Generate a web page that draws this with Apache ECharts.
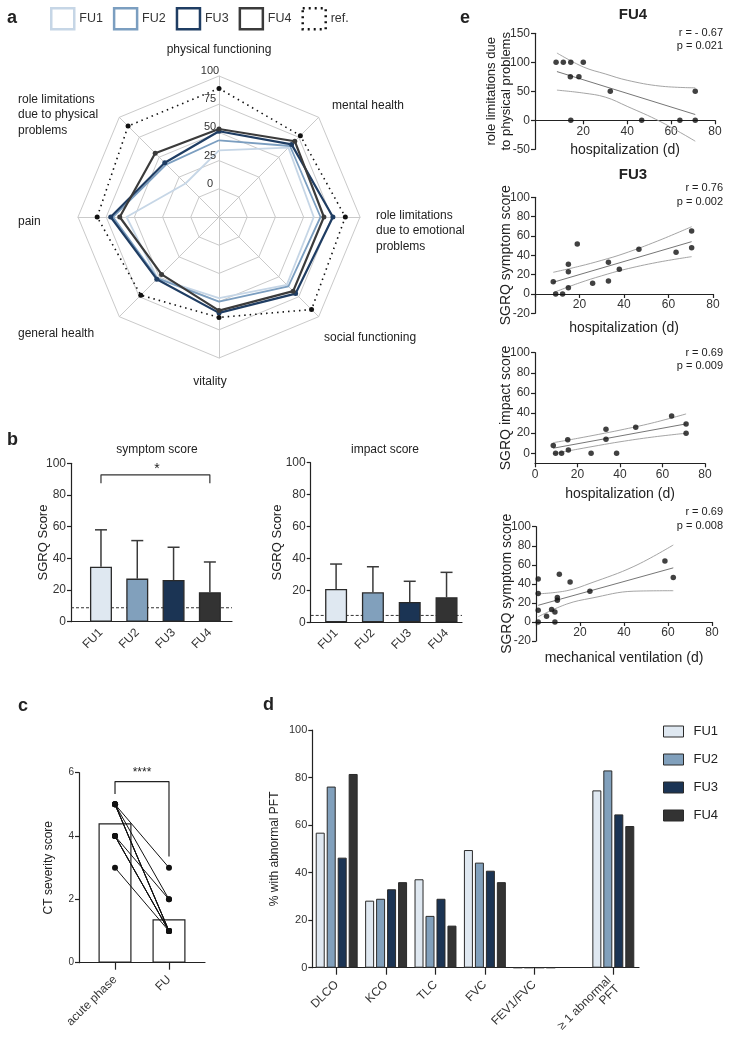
<!DOCTYPE html>
<html><head><meta charset="utf-8">
<script src="https://cdn.jsdelivr.net/npm/echarts@6/dist/echarts.min.js"></script>
<style>html,body{margin:0;padding:0;background:#fff}#c{width:731px;height:1046px}</style>
</head><body><div id="c"></div>
<script>
// ================= DATA =================
const fuLabels = ['FU1', 'FU2', 'FU3', 'FU4'];
// a) SF-36 radar
const radarAxes = ['physical functioning', 'role limitations due to physical problems', 'pain', 'general health',
  'vitality', 'social functioning', 'role limitations due to emotional problems', 'mental health'];
const radarAxisText = ['physical functioning', 'role limitations\ndue to physical\nproblems', 'pain', 'general health',
  'vitality', 'social functioning', 'role limitations\ndue to emotional\nproblems', 'mental health'];
const radarFU1 = [34, 17, 57, 52, 47, 60, 59, 62];
const radarFU2 = [43, 41, 69, 52, 50, 62, 65, 64];
const radarFU3 = [51, 43, 71, 53, 60, 71, 76, 66];
const radarFU4 = [53, 55, 63, 47, 58, 68, 68, 70];
const radarRef = [89, 89, 83, 73, 64, 91, 87, 77];
const radarTicks = [0, 25, 50, 75, 100];
// b) SGRQ
const symptomMean = [34.7, 27.2, 26.3, 18.6];
const symptomUpper = [58.0, 51.2, 47.0, 37.7];
const symptomRef = 8.8;
const impactMean = [20.9, 18.8, 12.7, 15.7];
const impactUpper = [36.5, 34.8, 25.7, 31.3];
const impactRef = 4.3;
// c) CT severity
const ctCats = ['acute phase', 'FU'];
const ctMeans = [4.4, 1.37];
const ctPairs = [[5, 3], [5, 2], [5, 1], [5, 1], [5, 1], [4, 2], [4, 1], [4, 1], [4, 1], [3, 1]];
// d) PFT
const pftCats = ['DLCO', 'KCO', 'TLC', 'FVC', 'FEV1/FVC', '≥ 1 abnormal\nPFT'];
const pftFU1 = [56.8, 28.2, 37.2, 49.5, 0, 74.6];
const pftFU2 = [76.2, 29.0, 21.8, 44.2, 0, 83.0];
const pftFU3 = [46.3, 33.0, 29.0, 40.8, 0, 64.5];
const pftFU4 = [81.5, 36.0, 17.7, 36.0, 0, 59.6];
// e) correlations
const e1Pts = [[7.6, 100], [10.9, 100], [14.3, 100], [20, 100], [14.1, 75], [18, 75], [32.3, 50], [71, 50], [14.3, 0], [46.6, 0], [64, 0], [71, 0]];
const e1Fit = [[8, 84], [71, 10]];
const e1Up = [[8, 116], [20, 92], [30, 80], [40, 69], [55, 59], [71, 56]];
const e1Lo = [[8, 52], [20, 47], [30, 40], [40, 24], [55, -2], [71, -36]];
const e2Pts = [[8.2, 12.7], [9.3, 0], [12.4, 0], [15, 30.7], [15, 23.1], [15, 6.5], [19, 51.7], [25.9, 11], [33, 32.8], [33, 13.4], [37.9, 25.5], [46.7, 46.2], [63.4, 43.1], [70.4, 65.2], [70.4, 47.9]];
const e2Fit = [[8.2, 12.1], [70.4, 54.1]];
const e2Up = [[8.2, 22.4], [20, 28.7], [30, 34.8], [40, 41.8], [55, 54.7], [70.4, 69.6]];
const e2Lo = [[8.2, 1.4], [20, 11.5], [30, 18.8], [40, 25.2], [55, 32.7], [70.4, 38.6]];
const e3Pts = [[8.6, 7.6], [9.7, 0], [12.5, 0], [15.4, 13.3], [15.7, 3.3], [26.4, 0], [33.4, 23.9], [33.4, 13.9], [38.4, 0], [47.4, 25.9], [64.3, 37.1], [71.1, 29.2], [71.1, 19.9]];
const e3Fit = [[8.6, 5], [71.1, 29.2]];
const e3Up = [[8.6, 10.5], [20, 14.8], [30, 18.8], [40, 23], [55, 30], [71.1, 39.1]];
const e3Lo = [[8.6, -0.5], [20, 4], [30, 7.8], [40, 11.4], [55, 16], [71.1, 19.9]];
const e4Pts = [[1, 45], [1, 29.8], [1, 12.3], [1, 0], [4.8, 6], [7.1, 13], [8.6, 10.5], [8.6, 0], [9.7, 25.6], [9.7, 22.8], [10.6, 50.2], [15.5, 42], [24.5, 32.3], [58.6, 63.9], [62.4, 46.7]];
const e4Fit = [[1, 17.5], [62.4, 56.8]];
const e4Up = [[1, 29.5], [14, 32.8], [25, 40.9], [44.5, 58.3], [62.4, 80.8]];
const e4Lo = [[1, 5.5], [14, 18.8], [25, 24.9], [44.5, 32.3], [62.4, 32.8]];
const eStats = [['r = - 0.67', 'p = 0.021'], ['r = 0.76', 'p = 0.002'], ['r = 0.69', 'p = 0.009'], ['r = 0.69', 'p = 0.008']];

// ================= LAYOUT / STYLE =================
const FF = '"Liberation Sans", Arial, Helvetica, sans-serif';
const INK = '#222';
const lineCols = ['#c6d6e6', '#7b9ec0', '#1f3d63', '#3b3b3b'];
const fillCols = ['#dfe8f1', '#81a0bc', '#1b3454', '#333333'];
const pftPos = [0, 1, 2, 3, 4, 5.6];
const RC = [219, 217], RR = 141;

function axis(o) {
  const a = {
    type: 'value', gridIndex: o.g, min: o.min, max: o.max,
    axisLine: { show: true, onZero: false, lineStyle: { color: INK, width: 1.2 } },
    axisTick: { show: o.tick !== false, length: o.tl || 4, lineStyle: { color: INK, width: 1.2 } },
    axisLabel: { show: true, color: '#333', fontSize: o.fs || 12, fontFamily: FF, margin: o.margin || 5 },
    splitLine: { show: false }, nameMoveOverlap: false
  };
  if (o.offset) a.offset = o.offset;
  if (o.interval != null) a.interval = o.interval;
  if (o.custom) { a.axisTick.customValues = o.custom; a.axisLabel.customValues = o.custom; }
  if (o.fmt) a.axisLabel.formatter = o.fmt;
  if (o.rotate) a.axisLabel.rotate = o.rotate;
  if (o.name) {
    a.name = o.name; a.nameLocation = 'middle'; a.nameGap = o.nameGap;
    a.nameTextStyle = { fontSize: o.nfs || 13, fontFamily: FF, color: '#222', lineHeight: o.nlh || 16 };
  }
  return a;
}
function grid(l, t, w, h) { return { left: l, top: t, width: w, height: h, outerBoundsMode: 'none', containLabel: false }; }
function txt(text, x, y, o) {
  o = o || {};
  return { type: 'text', silent: true, z: 50, style: {
    text: text, x: x, y: y, fill: o.fill || '#222', font: (o.bold ? 'bold ' : '') + (o.fs || 12) + 'px ' + FF,
    align: o.align || 'left', verticalAlign: o.va || 'middle', lineHeight: o.lh || 15 } };
}

const grids = [
  grid(71, 463.3, 161, 158.4),     // b symptom
  grid(310.7, 462.7, 151.3, 159.6), // b impact
  grid(79, 772.7, 126, 190),        // c
  grid(312.3, 730, 326.7, 237.7),   // d
  grid(535, 33.3, 180, 116),        // e1
  grid(535, 197.3, 178, 116),       // e2
  grid(535, 352.7, 170, 110.6),     // e3
  grid(536, 526.7, 176, 114.3)      // e4
];
// x axis of e1, e2, e4 crosses the y axis at 0: shift it up from the grid bottom
const zeroShift = (gr, min, max) => -gr.height * (0 - min) / (max - min);
const fuFmt = v => fuLabels[Math.round(v)];
const hide0 = v => (v === 0 ? '' : String(v));
const xAxes = [
  axis({ g: 0, min: -0.826, max: 3.61, custom: [0, 1, 2, 3], fmt: fuFmt, rotate: 45, tick: false, fs: 12, margin: 9 }),
  axis({ g: 1, min: -0.69, max: 3.42, custom: [0, 1, 2, 3], fmt: fuFmt, rotate: 45, tick: false, fs: 12, margin: 9 }),
  axis({ g: 2, min: -0.667, max: 1.667, custom: [0, 1], fmt: v => ctCats[Math.round(v)], rotate: 45, fs: 12, tl: 7, margin: 15 }),
  axis({ g: 3, min: -0.494, max: 6.12, custom: pftPos, fmt: v => pftCats[pftPos.indexOf(v)], rotate: 45, fs: 12, tl: 7, margin: 15 }),
  axis({ g: 4, min: -2, max: 80, custom: [20, 40, 60, 80], offset: zeroShift(grids[4], -50, 150), name: 'hospitalization (d)', nameGap: 22, nfs: 14 }),
  axis({ g: 5, min: 0, max: 80, interval: 20, fmt: hide0, offset: zeroShift(grids[5], -20, 100), name: 'hospitalization (d)', nameGap: 26, nfs: 14 }),
  axis({ g: 6, min: 0, max: 80, interval: 20, name: 'hospitalization (d)', nameGap: 23, nfs: 14 }),
  axis({ g: 7, min: 0, max: 80, interval: 20, fmt: hide0, offset: zeroShift(grids[7], -20, 100), name: 'mechanical ventilation (d)', nameGap: 28, nfs: 14 })
];
const yAxes = [
  axis({ g: 0, min: 0, max: 100, interval: 20, name: 'SGRQ Score', nameGap: 20, nfs: 13 }),
  axis({ g: 1, min: 0, max: 100, interval: 20, name: 'SGRQ Score', nameGap: 25, nfs: 13 }),
  axis({ g: 2, min: 0, max: 6, interval: 2, fs: 10, name: 'CT severity score', nameGap: 22, nfs: 12 }),
  axis({ g: 3, min: 0, max: 100, interval: 20, fs: 11, name: '% with abnormal PFT', nameGap: 30, nfs: 12 }),
  axis({ g: 4, min: -50, max: 150, interval: 50, name: 'role limitations due\nto physical problems', nameGap: 21, nfs: 13, nlh: 15 }),
  axis({ g: 5, min: -20, max: 100, interval: 20, name: 'SGRQ symptom score', nameGap: 21, nfs: 14 }),
  axis({ g: 6, min: -10, max: 100, custom: [0, 20, 40, 60, 80, 100], name: 'SGRQ impact score', nameGap: 21, nfs: 14 }),
  axis({ g: 7, min: -20, max: 100, interval: 20, name: 'SGRQ symptom score', nameGap: 21, nfs: 14 })
];

// ================= SERIES =================
const series = [];
// radar
const radarSets = [radarFU1, radarFU2, radarFU3, radarFU4];
series.push({
  type: 'radar', radarIndex: 0, silent: true, z: 3,
  data: radarSets.map((v, i) => ({
    name: fuLabels[i], value: v,
    symbol: i >= 2 ? 'circle' : 'none', symbolSize: 5,
    lineStyle: { color: lineCols[i], width: i >= 2 ? 2.2 : 1.8 },
    itemStyle: { color: lineCols[i] }
  })).concat([{
    name: 'ref.', value: radarRef, symbol: 'circle', symbolSize: 5,
    lineStyle: { color: '#111', width: 1.6, type: [1.5, 4] }, itemStyle: { color: '#111' }
  }])
});

function barSet(gi, means, uppers, ref, xmin, xmax) {
  series.push({ type: 'line', xAxisIndex: gi, yAxisIndex: gi, z: 1, silent: true, symbol: 'none',
    data: [[xmin, ref], [xmax, ref]], lineStyle: { color: '#333', width: 1, type: [3, 2] } });
  series.push({ type: 'bar', xAxisIndex: gi, yAxisIndex: gi, z: 3, silent: true, barWidth: 22,
    itemStyle: { borderColor: '#2a2a2a', borderWidth: 1.3 },
    data: means.map((v, i) => ({ value: [i, v], itemStyle: { color: fillCols[i] } })) });
  series.push({ type: 'custom', xAxisIndex: gi, yAxisIndex: gi, z: 2, silent: true,
    data: means.map((m, i) => [i, m, uppers[i]]), encode: { x: 0, y: [1, 2] },
    renderItem: function (params, api) {
      const x = api.value(0);
      const p1 = api.coord([x, api.value(1)]), p2 = api.coord([x, api.value(2)]);
      const st = { stroke: '#3a3a3a', lineWidth: 1.5 };
      return { type: 'group', children: [
        { type: 'line', shape: { x1: p1[0], y1: p1[1], x2: p2[0], y2: p2[1] }, style: st },
        { type: 'line', shape: { x1: p2[0] - 6, y1: p2[1], x2: p2[0] + 6, y2: p2[1] }, style: st }] };
    } });
}
barSet(0, symptomMean, symptomUpper, symptomRef, -0.826, 3.61);
barSet(1, impactMean, impactUpper, impactRef, -0.69, 3.42);
// significance bracket b
series.push({ type: 'line', xAxisIndex: 0, yAxisIndex: 0, silent: true, symbol: 'none', z: 4,
  data: [[0, 87.4], [0, 92.7], [3, 92.7], [3, 87.4]], lineStyle: { color: '#333', width: 1.2 } });

// c
series.push({ type: 'bar', xAxisIndex: 2, yAxisIndex: 2, barWidth: 33, silent: true, z: 2,
  itemStyle: { color: '#fff', borderColor: '#222', borderWidth: 1.2 },
  data: ctMeans.map((v, i) => [i, v]) });
ctPairs.forEach(p => series.push({ type: 'line', xAxisIndex: 2, yAxisIndex: 2, silent: true, z: 4,
  data: [[0, p[0]], [1, p[1]]], symbol: 'circle', symbolSize: 6,
  lineStyle: { color: '#111', width: 1 }, itemStyle: { color: '#111' } }));
series.push({ type: 'line', xAxisIndex: 2, yAxisIndex: 2, silent: true, symbol: 'none', z: 4,
  data: [[0, 5.33], [0, 5.72], [1, 5.72], [1, 3.35]], lineStyle: { color: '#222', width: 1.2 } });

// d
[pftFU1, pftFU2, pftFU3, pftFU4].forEach((arr, k) => series.push({
  type: 'bar', name: fuLabels[k], xAxisIndex: 3, yAxisIndex: 3, silent: true, barWidth: 9, barGap: '22%',
  itemStyle: { color: fillCols[k], borderColor: '#2a2a2a', borderWidth: 1 },
  data: arr.map((v, i) => [pftPos[i], v]) }));

// e
function eSet(gi, pts, fit, up, lo) {
  const ls = (c) => ({ color: c, width: 0.9 });
  series.push({ type: 'line', xAxisIndex: gi, yAxisIndex: gi, silent: true, symbol: 'none', smooth: 0.4, data: up, lineStyle: ls('#9a9a9a') });
  series.push({ type: 'line', xAxisIndex: gi, yAxisIndex: gi, silent: true, symbol: 'none', data: fit, lineStyle: ls('#666') });
  series.push({ type: 'line', xAxisIndex: gi, yAxisIndex: gi, silent: true, symbol: 'none', smooth: 0.4, data: lo, lineStyle: ls('#9a9a9a') });
  series.push({ type: 'scatter', xAxisIndex: gi, yAxisIndex: gi, silent: true, symbolSize: 5.5, z: 5,
    itemStyle: { color: '#111' }, data: pts });
}
eSet(4, e1Pts, e1Fit, e1Up, e1Lo);
eSet(5, e2Pts, e2Fit, e2Up, e2Lo);
eSet(6, e3Pts, e3Fit, e3Up, e3Lo);
eSet(7, e4Pts, e4Fit, e4Up, e4Lo);

// ================= TEXT =================
const g = [];
g.push(txt('a', 7, 18, { bold: true, fs: 18 }));
g.push(txt('b', 7, 440, { bold: true, fs: 18 }));
g.push(txt('c', 18, 706, { bold: true, fs: 18 }));
g.push(txt('d', 263, 705, { bold: true, fs: 18 }));
g.push(txt('e', 460, 18, { bold: true, fs: 18 }));
// radar names
const radarNamePos = [[219, 50, 'center'], [18, 115, 'left'], [18, 222, 'left'], [18, 334, 'left'],
  [210, 382, 'center'], [324, 338, 'left'], [376, 231, 'left'], [332, 106, 'left']];
radarAxisText.forEach((t, i) => g.push(txt(t, radarNamePos[i][0], radarNamePos[i][1], { align: radarNamePos[i][2], fs: 12, lh: 15.5 })));
radarTicks.forEach(v => g.push(txt(String(v), 210, RC[1] - RR * (v + 25) / 125 - 5, { align: 'center', fs: 11, fill: '#333' })));
// b
g.push(txt('symptom score', 157, 450, { align: 'center', fs: 12 }));
g.push(txt('impact score', 385, 450, { align: 'center', fs: 12 }));
g.push(txt('*', 157, 469, { align: 'center', fs: 14 }));
// c
g.push(txt('****', 142, 773, { align: 'center', fs: 12 }));
// e
g.push(txt('FU4', 633, 15, { align: 'center', fs: 15, bold: true }));
g.push(txt('FU3', 633, 175, { align: 'center', fs: 15, bold: true }));
const statY = [[33, 46], [188, 202], [353, 366], [512, 526]];
eStats.forEach((s, i) => { g.push(txt(s[0], 723, statY[i][0], { align: 'right', fs: 11 })); g.push(txt(s[1], 723, statY[i][1], { align: 'right', fs: 11 })); });

// ================= OPTION =================
const chart = echarts.init(document.getElementById('c'), null, { renderer: 'canvas' });
chart.setOption({
  animation: false,
  backgroundColor: '#fff',
  textStyle: { fontFamily: FF },
  legend: [
    { left: 50, top: 7, padding: 0, itemWidth: 23, itemHeight: 21, itemGap: 10, icon: 'rect', selectedMode: false,
      textStyle: { fontSize: 12.5, color: '#333', fontFamily: FF },
      data: fuLabels.map((n, i) => ({ name: n, itemStyle: { color: '#fff', borderColor: lineCols[i], borderWidth: 2.5 } }))
        .concat([{ name: 'ref.', itemStyle: { color: '#fff', borderColor: '#111', borderWidth: 2.5, borderType: [2, 4] } }]) },
    { left: 663, top: 725, padding: 0, orient: 'vertical', itemWidth: 20, itemHeight: 11, itemGap: 15, icon: 'rect', selectedMode: false,
      textStyle: { fontSize: 13, color: '#222', fontFamily: FF, padding: [0, 0, 0, 5] },
      data: fuLabels.map((n, i) => ({ name: n, itemStyle: { color: fillCols[i], borderColor: '#2a2a2a', borderWidth: 1 } })) }
  ],
  radar: {
    center: RC, radius: RR, startAngle: 90, splitNumber: 5, shape: 'polygon',
    indicator: radarAxes.map(n => ({ name: n, min: -25, max: 100 })),
    axisName: { show: false },
    axisLine: { lineStyle: { color: '#cacaca', width: 1 } },
    splitLine: { lineStyle: { color: '#cacaca', width: 1 } },
    splitArea: { show: false }, axisLabel: { show: false }, axisTick: { show: false }
  },
  grid: grids, xAxis: xAxes, yAxis: yAxes, series: series, graphic: g
});
</script></body></html>
